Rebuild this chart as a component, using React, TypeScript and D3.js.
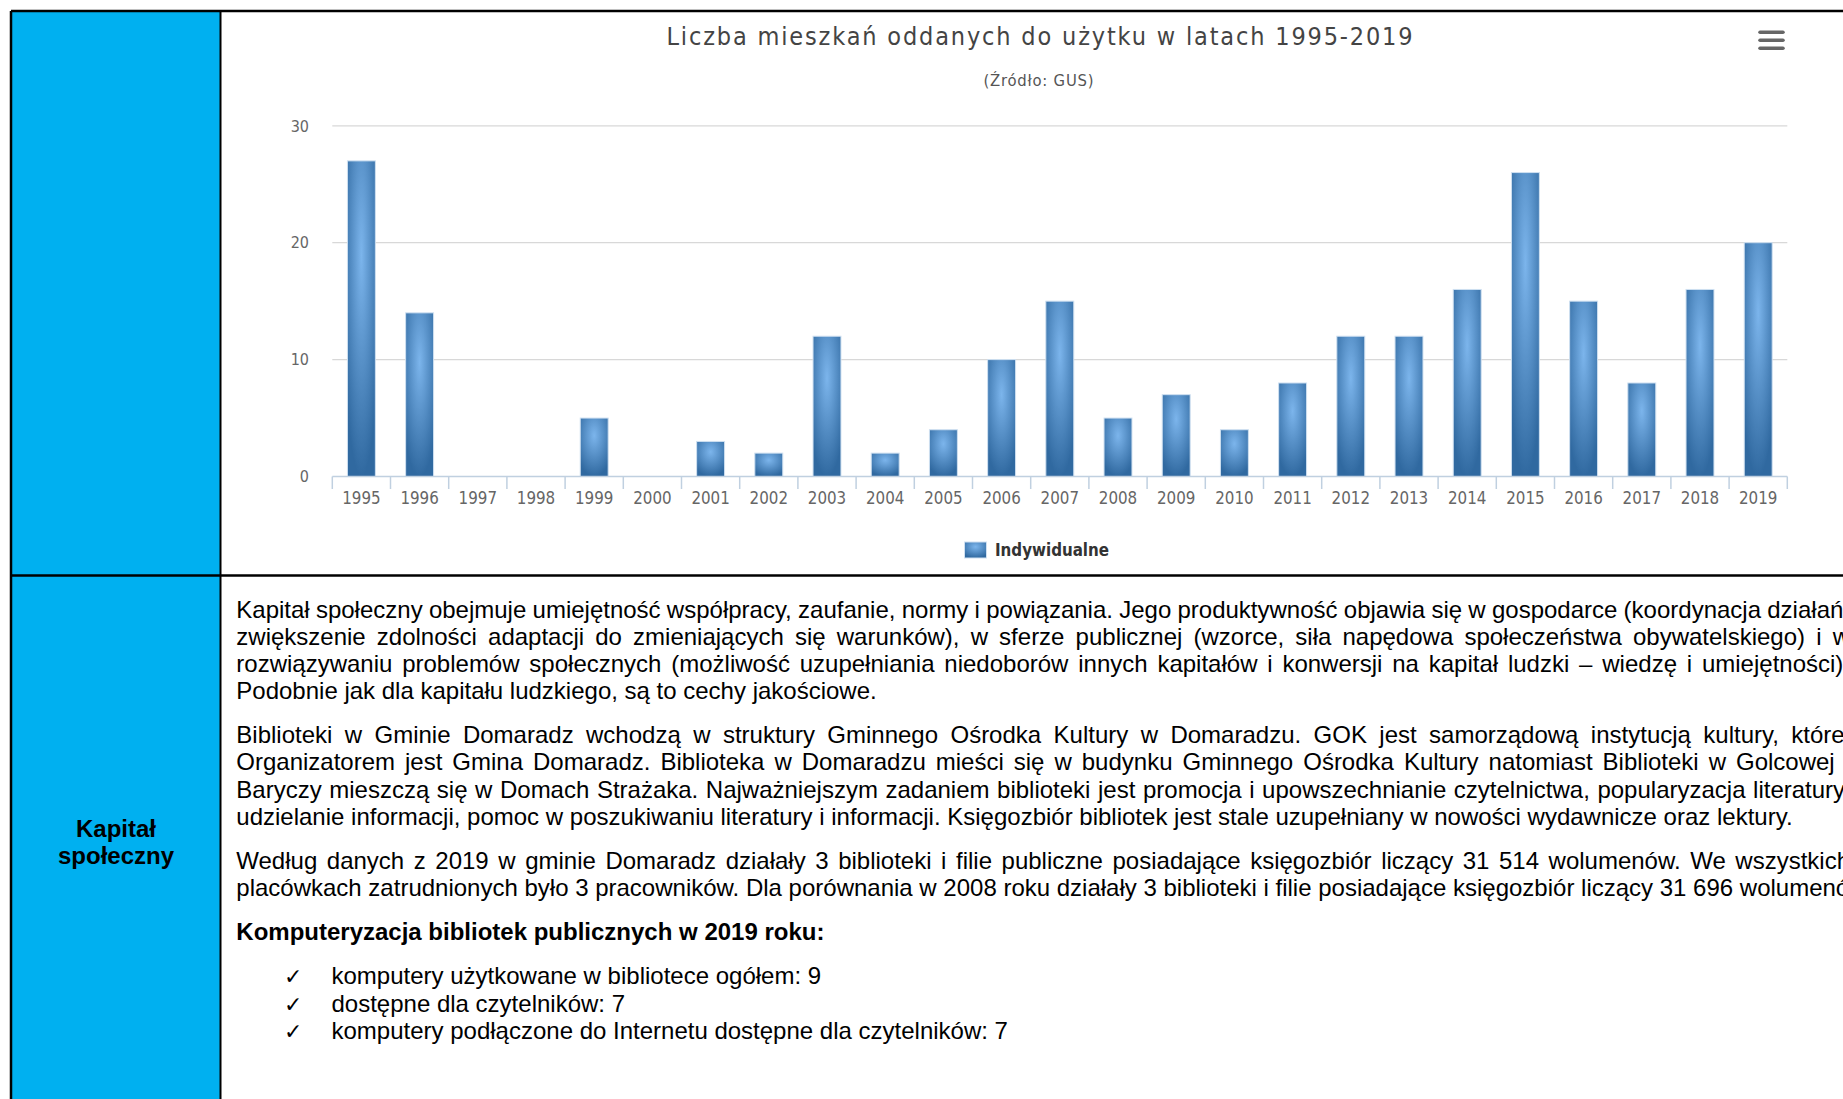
import React, { useEffect, useRef } from 'react';
import * as d3 from 'd3';

// ---------- data ----------
const years = ['1995','1996','1997','1998','1999','2000','2001','2002','2003','2004','2005','2006','2007','2008','2009','2010','2011','2012','2013','2014','2015','2016','2017','2018','2019'];
const values = [27,14,0,0,5,0,3,2,12,2,4,10,15,5,7,4,8,12,12,16,26,15,8,16,20];
const yTicks = [0,10,20,30];
const chartTitle = 'Liczba mieszkań oddanych do użytku w latach 1995-2019';
const chartSubtitle = '(Źródło: GUS)';
const seriesName = 'Indywidualne';
const sideLabel = ['Kapitał', 'społeczny'];

const para1 = [
  'Kapitał społeczny obejmuje umiejętność współpracy, zaufanie, normy i powiązania. Jego produktywność objawia się w gospodarce (koordynacja działań,',
  'zwiększenie zdolności adaptacji do zmieniających się warunków), w sferze publicznej (wzorce, siła napędowa społeczeństwa obywatelskiego) i w',
  'rozwiązywaniu problemów społecznych (możliwość uzupełniania niedoborów innych kapitałów i konwersji na kapitał ludzki – wiedzę i umiejętności).',
  'Podobnie jak dla kapitału ludzkiego, są to cechy jakościowe.',
];
const para2 = [
  'Biblioteki w Gminie Domaradz wchodzą w struktury Gminnego Ośrodka Kultury w Domaradzu. GOK jest samorządową instytucją kultury, której',
  'Organizatorem jest Gmina Domaradz. Biblioteka w Domaradzu mieści się w budynku Gminnego Ośrodka Kultury natomiast Biblioteki w Golcowej i',
  'Baryczy mieszczą się w Domach Strażaka. Najważniejszym zadaniem biblioteki jest promocja i upowszechnianie czytelnictwa, popularyzacja literatury,',
  'udzielanie informacji, pomoc w poszukiwaniu literatury i informacji. Księgozbiór bibliotek jest stale uzupełniany w nowości wydawnicze oraz lektury.',
];
const para3 = [
  'Według danych z 2019 w gminie Domaradz działały 3 biblioteki i filie publiczne posiadające księgozbiór liczący 31 514 wolumenów. We wszystkich',
  'placówkach zatrudnionych było 3 pracowników. Dla porównania w 2008 roku działały 3 biblioteki i filie posiadające księgozbiór liczący 31 696 wolumenów.',
];
const heading = 'Komputeryzacja bibliotek publicznych w 2019 roku:';
const listItems = [
  'komputery użytkowane w bibliotece ogółem: 9',
  'dostępne dla czytelników: 7',
  'komputery podłączone do Internetu dostępne dla czytelników: 7',
];

// ---------- layout ----------
const W = 1843, H = 1099;
const plot = { left: 332.3, right: 1787.3, top: 125.8, bottom: 476.5 };
const chartFont = '"DejaVu Sans Condensed", "DejaVu Sans", sans-serif';
const docFont = '"Liberation Sans", Arial, sans-serif';
const textLeft = 236.3;
const justifyRight = 1850;
const lineH = 27.2;
const paraStep = 44.1;

export default function App() {
  const ref = useRef<SVGSVGElement>(null);

  const x = d3.scaleBand<string>().domain(years).range([plot.left, plot.right]).paddingInner(0).paddingOuter(0);
  const y = d3.scaleLinear().domain([0, 30]).range([plot.bottom, plot.top]);
  const barW = x.bandwidth() * 0.48;

  useEffect(() => {
    if (!ref.current) return;
    d3.select(ref.current).selectAll<SVGTextElement, unknown>('text.justify').each(function () {
      const el = this as SVGTextElement;
      el.style.wordSpacing = '0px';
      const natural = el.getComputedTextLength();
      const x0 = +(el.getAttribute('x') || 0);
      const target = justifyRight - x0;
      const spaces = ((el.textContent || '').match(/ /g) || []).length;
      if (spaces > 0) el.style.wordSpacing = `${(target - natural) / spaces}px`;
    });
  }, []);

  // text block
  const p1y = 617.5;
  const p2y = p1y + (para1.length - 1) * lineH + paraStep;
  const p3y = p2y + (para2.length - 1) * lineH + paraStep;
  const hy = p3y + (para3.length - 1) * lineH + paraStep;
  const ly = hy + paraStep;

  const renderPara = (lines: string[], y0: number, key: string) =>
    lines.map((t, i) => (
      <text
        key={key + i}
        className={i < lines.length - 1 ? 'justify' : ''}
        x={textLeft}
        y={y0 + i * lineH}
        fontFamily={docFont}
        fontSize={24}
        fill="#000"
      >
        {t}
      </text>
    ));

  const ticks = [...years.map((yr) => x(yr) as number), plot.right];

  return (
    <svg ref={ref} width={W} height={H} style={{ position: 'fixed', left: 0, top: 0, background: '#fff' }}>
      <defs>
        <radialGradient id="barGrad" cx="0.5" cy="0.3" r="0.7">
          <stop offset="0" stopColor="#7cb5ec" />
          <stop offset="1" stopColor="#3069a0" />
        </radialGradient>
        <clipPath id="pageClip">
          <rect x={0} y={0} width={W} height={H} />
        </clipPath>
      </defs>
      <rect x={0} y={0} width={W} height={H} fill="#fff" />

      {/* blue side column */}
      <rect x={11} y={11} width={209.5} height={H - 11} fill="#00b0f0" />

      {/* chart title */}
      <text x={1039.5} y={45} textAnchor="middle" fontFamily={chartFont} fontSize={25} fill="#444" textLength={746} lengthAdjust="spacing">{chartTitle}</text>
      <text x={1038.5} y={86} textAnchor="middle" fontFamily={chartFont} fontSize={16.5} fill="#555" textLength={110} lengthAdjust="spacing">{chartSubtitle}</text>

      {/* hamburger */}
      {[32.3, 40.2, 48.2].map((yy, i) => (
        <line key={'hb' + i} x1={1760} x2={1783} y1={yy} y2={yy} stroke="#666" strokeWidth={3.5} strokeLinecap="round" />
      ))}

      {/* gridlines */}
      {yTicks.filter((t) => t > 0).map((t) => (
        <line key={'g' + t} x1={plot.left} x2={plot.right} y1={y(t)} y2={y(t)} stroke="#d8d8d8" strokeWidth={1.3} />
      ))}
      {yTicks.map((t) => (
        <text key={'yl' + t} x={309} y={y(t)} dy="0.36em" textAnchor="end" fontFamily={chartFont} fontSize={16} fill="#666">{t}</text>
      ))}

      {/* bars */}
      {values.map((v, i) =>
        v > 0 ? (
          <rect
            key={'b' + i}
            x={(x(years[i]) as number) + (x.bandwidth() - barW) / 2}
            y={y(v)}
            width={barW}
            height={y(0) - y(v)}
            fill="url(#barGrad)"
            stroke="#cfe0f1"
            strokeWidth={1}
          />
        ) : null
      )}

      {/* x axis */}
      <line x1={plot.left} x2={plot.right} y1={plot.bottom} y2={plot.bottom} stroke="#c0d0e0" strokeWidth={1.5} />
      {ticks.map((tx, i) => (
        <line key={'t' + i} x1={tx} x2={tx} y1={plot.bottom} y2={plot.bottom + 12.5} stroke="#c0d0e0" strokeWidth={1.5} />
      ))}
      {years.map((yr) => (
        <text key={'xl' + yr} x={(x(yr) as number) + x.bandwidth() / 2} y={504} textAnchor="middle" fontFamily={chartFont} fontSize={16.8} fill="#666">{yr}</text>
      ))}

      {/* legend */}
      <rect x={964.5} y={542} width={22} height={16} fill="url(#barGrad)" stroke="#cfe0f1" strokeWidth={1} />
      <text x={995} y={556} fontFamily={chartFont} fontSize={16.8} fontWeight="bold" fill="#333">{seriesName}</text>

      {/* table lines */}
      <line x1={11} x2={W} y1={11} y2={11} stroke="#000" strokeWidth={2.5} />
      <line x1={11} x2={11} y1={11} y2={H} stroke="#000" strokeWidth={2.5} />
      <line x1={220.5} x2={220.5} y1={11} y2={H} stroke="#000" strokeWidth={2} />
      <line x1={11} x2={W} y1={575.5} y2={575.5} stroke="#000" strokeWidth={2.5} />

      {/* side label */}
      {sideLabel.map((t, i) => (
        <text key={'sl' + i} x={116} y={837 + i * 27.2} textAnchor="middle" fontFamily={docFont} fontSize={24} fontWeight="bold" fill="#000">{t}</text>
      ))}

      {/* body text */}
      <g clipPath="url(#pageClip)">
        {renderPara(para1, p1y, 'p1')}
        {renderPara(para2, p2y, 'p2')}
        {renderPara(para3, p3y, 'p3')}
        <text x={textLeft} y={hy} fontFamily={docFont} fontSize={24} fontWeight="bold" fill="#000">{heading}</text>
        {listItems.map((t, i) => (
          <g key={'li' + i}>
            <text x={284} y={ly + i * lineH} fontFamily='"DejaVu Sans", sans-serif' fontSize={22} fill="#000">✓</text>
            <text x={331.5} y={ly + i * lineH} fontFamily={docFont} fontSize={24} fill="#000">{t}</text>
          </g>
        ))}
      </g>
    </svg>
  );
}
